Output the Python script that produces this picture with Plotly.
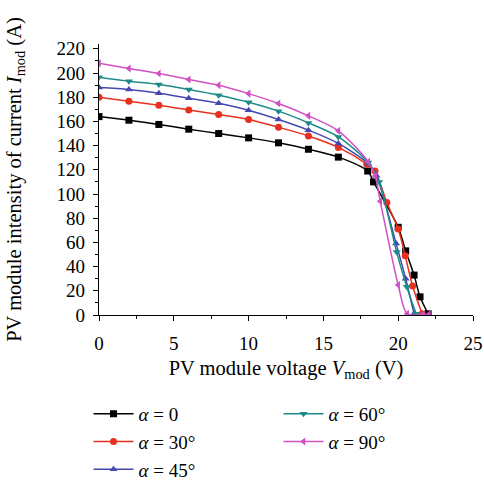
import plotly.graph_objects as go

# alpha = 0
v0 = [0, 2, 4, 6, 8, 10, 12, 14, 16, 17.96, 18.35, 20, 20.5, 21.06, 21.46, 22.0]
i0 = [164, 161, 157.5, 153.6, 150, 146.4, 142.3, 137, 130.5, 119, 110, 72.5, 53, 33, 15, 1]
# alpha = 30
v30 = [0, 2, 4, 6, 8, 10, 12, 14, 16, 17.9, 18.45, 19.24, 20, 20.47, 20.96, 21.6]
i30 = [180, 176.7, 173.4, 169.5, 165.7, 161.6, 155.2, 148, 138.5, 124.7, 119, 93, 71, 49, 24, 1]
# alpha = 45
v45 = [0, 2, 4, 6, 8, 10, 12, 14, 16, 18, 18.55, 19.86, 20.5, 21.06]
i45 = [188, 186.4, 183.3, 179.2, 175, 169.3, 161.6, 152.8, 141.8, 125, 115, 59, 30, 1]
# alpha = 60
v60 = [0, 2, 4, 6, 8, 10, 12, 14, 16, 18, 18.73, 19.9, 20.57, 21.2]
i60 = [196.5, 193.2, 190.5, 186.4, 181.7, 175.9, 168.5, 158.8, 147.2, 126, 110, 52, 23.4, 1]
# alpha = 90
v90 = [0, 2, 4, 6, 8, 10, 12, 14, 16, 18, 18.46, 18.8, 20, 20.6, 21.65, 22.05]
i90 = [208, 203.7, 199.6, 194.6, 189.9, 183, 174.8, 164.6, 152.2, 126.6, 114.8, 94, 24.8, 1, 0.5, 0.5]

series = [
    ("<i>α</i> = 0", v0, i0, "#000000", "square", "legend"),
    ("<i>α</i> = 30°", v30, i30, "#e8301e", "circle", "legend"),
    ("<i>α</i> = 45°", v45, i45, "#4448b0", "triangle-up", "legend"),
    ("<i>α</i> = 60°", v60, i60, "#1b8b8a", "triangle-down", "legend2"),
    ("<i>α</i> = 90°", v90, i90, "#d150c4", "triangle-left", "legend2"),
]

fig = go.Figure()
for name, v, cur, col, sym, leg in series:
    fig.add_trace(go.Scatter(
        x=v, y=cur, name=name, mode="lines+markers",
        line=dict(color=col, width=1.5, shape="spline", smoothing=0.8),
        marker=dict(color=col, symbol=sym, size=7),
        legend=leg,
    ))

font = "Liberation Serif, Times New Roman, serif"
axis_common = dict(
    showline=True, linecolor="black", linewidth=1.2,
    ticks="outside", ticklen=5, tickcolor="black", tickwidth=1.2,
    showgrid=False, zeroline=False, mirror=False, automargin=False,
    tickfont=dict(family=font, size=19, color="black"),
)

fig.update_layout(
    width=484, height=481,
    margin=dict(l=99, r=11, t=44, b=166, autoexpand=False),
    plot_bgcolor="white", paper_bgcolor="white",
    font=dict(family=font, size=19, color="black"),
    xaxis=dict(
        range=[0, 25], tickvals=[0, 5, 10, 15, 20, 25],
        ticklabelstandoff=6,
        minor=dict(ticks="outside", ticklen=3, tickcolor="black", dtick=2.5),
        title=dict(text="PV module voltage <i>V</i><sub>mod</sub> (V)",
                   font=dict(family=font, size=20.5), standoff=7),
        **axis_common,
    ),
    yaxis=dict(
        range=[0, 224], tickvals=list(range(0, 221, 20)),
        ticklabelstandoff=4,
        minor=dict(ticks="outside", ticklen=3, tickcolor="black", dtick=10),
        title=dict(text="PV module intensity of current <i>I</i><sub>mod</sub> (A)",
                   font=dict(family=font, size=20.5), standoff=29),
        **axis_common,
    ),
    legend=dict(x=-0.028, y=-0.295, xanchor="left", yanchor="top",
                font=dict(family=font, size=19), bgcolor="rgba(0,0,0,0)",
                tracegroupgap=0, itemwidth=40),
    legend2=dict(x=0.48, y=-0.295, xanchor="left", yanchor="top",
                 font=dict(family=font, size=19), bgcolor="rgba(0,0,0,0)",
                 tracegroupgap=0, itemwidth=40),
)

fig.write_html("out.html", config={"displayModeBar": False},
               post_script="document.body.style.margin='0px';")
